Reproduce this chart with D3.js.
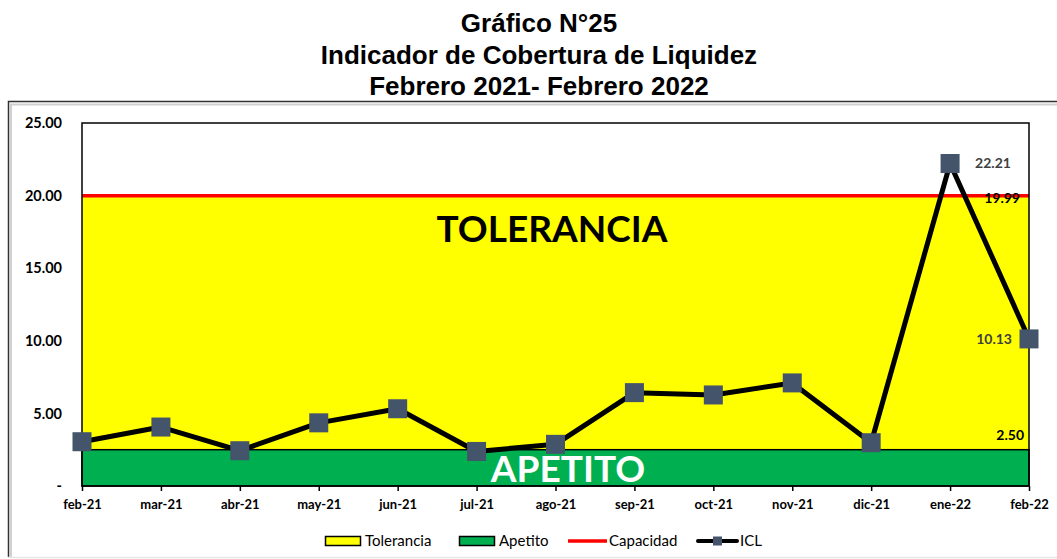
<!DOCTYPE html>
<html>
<head>
<meta charset="utf-8">
<script src="https://d3js.org/d3.v7.min.js"></script>
<style>
    body { margin: 0; background: #fff; }
    .axis .domain { display: none; }
    .axis text { font-family: Lato, sans-serif; font-weight: bold; fill: #000; }
</style>
</head>
<body>
<svg width="1057" height="559"></svg>
<script>
    // data
    var months = ["feb-21", "mar-21", "abr-21", "may-21", "jun-21", "jul-21", "ago-21",
                  "sep-21", "oct-21", "nov-21", "dic-21", "ene-22", "feb-22"];
    var icl = [3.05, 4.06, 2.43, 4.35, 5.32, 2.38, 2.87, 6.43, 6.27, 7.10, 2.98, 22.21, 10.13];
    var apetito = 2.50;
    var capacidad = 19.99;
    var yTicks = [0, 5, 10, 15, 20, 25];
    var titleLines = ["Gráfico N°25", "Indicador de Cobertura de Liquidez", "Febrero 2021- Febrero 2022"];
    var legendItems = ["Tolerancia", "Apetito", "Capacidad", "ICL"];

    var svg = d3.select("svg");
    var margin = {top: 123, right: 28, bottom: 73, left: 82},
        width = 1057 - margin.left - margin.right,
        height = 559 - margin.top - margin.bottom;

    // title
    svg.append("g")
        .attr("font-family", "'Liberation Sans', Arial, sans-serif")
        .attr("font-weight", "bold")
        .attr("font-size", 26)
        .attr("text-anchor", "middle")
        .selectAll("text")
        .data(titleLines)
        .enter().append("text")
        .attr("x", 539)
        .attr("y", function(d, i) { return 32 + i * 31.5; })
        .text(function(d) { return d; });

    // chart frame (dark left/top, faint bottom)
    svg.append("path")
        .attr("d", "M11,557V104.5H1057")
        .attr("fill", "none").attr("stroke", "#d0d0d0").attr("stroke-width", 2);
    svg.append("path")
        .attr("d", "M8.5,557V101.5H1057")
        .attr("fill", "none").attr("stroke", "#303030").attr("stroke-width", 1.5);
    svg.append("line")
        .attr("x1", 8).attr("x2", 1057).attr("y1", 557.5).attr("y2", 557.5)
        .attr("stroke", "#e6e6e6").attr("stroke-width", 1.5);

    var g = svg.append("g").attr("transform", "translate(" + margin.left + "," + margin.top + ")");

    var x = d3.scalePoint().domain(months).range([0, width]);
    var y = d3.scaleLinear().domain([0, 25]).range([height, 0]);

    // zones
    g.append("rect")
        .attr("x", 0).attr("y", y(capacidad))
        .attr("width", width).attr("height", y(apetito) - y(capacidad))
        .attr("fill", "#ffff00");
    g.append("rect")
        .attr("x", 0).attr("y", y(apetito))
        .attr("width", width).attr("height", y(0) - y(apetito))
        .attr("fill", "#00b050").attr("stroke", "#000").attr("stroke-width", 1.5);

    g.append("text")
        .attr("x", 470).attr("y", y(16.78))
        .attr("text-anchor", "middle")
        .attr("font-family", "Lato, sans-serif").attr("font-weight", "bold").attr("font-size", 37)
        .attr("fill", "#000")
        .text("TOLERANCIA");
    g.append("text")
        .attr("x", 486).attr("y", y(0.3))
        .attr("text-anchor", "middle")
        .attr("font-family", "Lato, sans-serif").attr("font-weight", "bold").attr("font-size", 37)
        .attr("fill", "#fff")
        .text("APETITO");

    // capacidad line
    g.append("line")
        .attr("x1", 0).attr("x2", width)
        .attr("y1", y(capacidad)).attr("y2", y(capacidad))
        .attr("stroke", "#ff0000").attr("stroke-width", 3.5);

    // plot border
    g.append("rect")
        .attr("width", width).attr("height", height)
        .attr("fill", "none").attr("stroke", "#000").attr("stroke-width", 1.5);

    // axes
    g.append("g")
        .attr("class", "axis")
        .attr("transform", "translate(0," + height + ")")
        .call(d3.axisBottom(x).tickSize(5).tickSizeOuter(0).tickPadding(9))
        .call(function(a) {
            a.selectAll("text").attr("font-size", 13);
            a.selectAll("line").attr("stroke", "#000").attr("stroke-width", 1.5);
        });

    g.append("g")
        .attr("class", "axis")
        .call(d3.axisLeft(y).tickValues(yTicks).tickSize(0).tickPadding(20)
            .tickFormat(function(d) { return d === 0 ? "-" : d.toFixed(2); }))
        .call(function(a) { a.selectAll("text").attr("font-size", 14.5); });

    // ICL line
    g.append("path")
        .datum(icl)
        .attr("fill", "none")
        .attr("stroke", "#000")
        .attr("stroke-width", 5)
        .attr("stroke-linejoin", "round")
        .attr("d", d3.line()
            .x(function(d, i) { return x(months[i]); })
            .y(function(d) { return y(d); }));

    g.selectAll(".mark")
        .data(icl)
        .enter().append("rect")
        .attr("class", "mark")
        .attr("x", function(d, i) { return x(months[i]) - 9.5; })
        .attr("y", function(d) { return y(d) - 9.5; })
        .attr("width", 19).attr("height", 19)
        .attr("fill", "#44546a");

    // data labels
    var lab = g.append("g")
        .attr("font-family", "Lato, sans-serif")
        .attr("font-weight", "bold")
        .attr("font-size", 14);
    var n = months.length;
    lab.append("text")
        .attr("x", x(months[n - 2]) + 25).attr("y", y(icl[n - 2])).attr("dy", "0.35em")
        .attr("fill", "#404040").text(icl[n - 2].toFixed(2));
    lab.append("text")
        .attr("x", x(months[n - 1]) - 17).attr("y", y(icl[n - 1])).attr("dy", "0.35em")
        .attr("text-anchor", "end")
        .attr("fill", "#404040").text(icl[n - 1].toFixed(2));
    lab.append("text")
        .attr("x", width - 9).attr("y", y(capacidad) + 2).attr("dy", "0.35em")
        .attr("text-anchor", "end")
        .attr("fill", "#000").text(capacidad.toFixed(2));
    lab.append("text")
        .attr("x", width - 5).attr("y", y(apetito) - 15).attr("dy", "0.35em")
        .attr("text-anchor", "end")
        .attr("fill", "#000").text(apetito.toFixed(2));

    // legend
    var legX = [325, 459, 568, 698];
    var legend = svg.append("g")
        .attr("font-family", "Lato, sans-serif")
        .attr("font-size", 15)
        .selectAll("g")
        .data(legendItems)
        .enter().append("g")
        .attr("transform", function(d, i) { return "translate(" + legX[i] + ",541)"; });

    legend.each(function(d) {
        var el = d3.select(this);
        if (d === "Tolerancia" || d === "Apetito") {
            el.append("rect")
                .attr("x", 0.5).attr("y", -4.5).attr("width", 35).attr("height", 9)
                .attr("fill", d === "Tolerancia" ? "#ffff00" : "#00b050")
                .attr("stroke", "#000").attr("stroke-width", 1.5);
            el.append("text").attr("x", 40).attr("dy", "0.35em").text(d);
        } else if (d === "Capacidad") {
            el.append("line").attr("x1", 0).attr("x2", 39)
                .attr("stroke", "#ff0000").attr("stroke-width", 3.5);
            el.append("text").attr("x", 41).attr("dy", "0.35em").text(d);
        } else {
            el.append("line").attr("x1", 0).attr("x2", 39)
                .attr("stroke", "#000").attr("stroke-width", 4).attr("stroke-linecap", "round");
            el.append("rect").attr("x", 15).attr("y", -4.5).attr("width", 9).attr("height", 9)
                .attr("fill", "#44546a");
            el.append("text").attr("x", 42).attr("dy", "0.35em").text(d);
        }
    });
</script>
</body>
</html>
